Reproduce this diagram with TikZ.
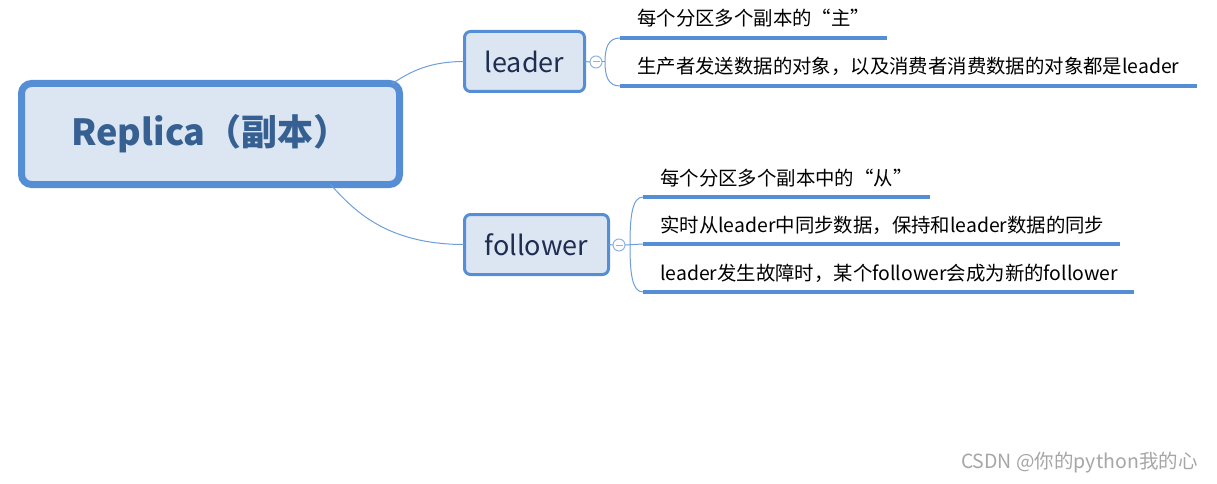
\documentclass[tikz,border=0pt]{standalone}
\usepackage{fontspec}
\setmainfont{Noto Sans CJK SC}
\usetikzlibrary{calc}
\definecolor{frame}{RGB}{85,142,213}
\definecolor{paleblue}{RGB}{220,230,242}
\definecolor{navy}{RGB}{55,96,146}
\definecolor{deepnavy}{RGB}{30,45,80}
\definecolor{wire}{RGB}{110,158,218}
\definecolor{knob}{RGB}{141,180,227}
\tikzset{
  hub/.style={draw=frame,fill=paleblue,line width=7pt,rounded corners=10pt,
    minimum width=378pt,minimum height=101pt,outer sep=0pt,text=navy,
    font=\fontsize{36}{40}\selectfont\bfseries},
  topic/.style={draw=frame,fill=paleblue,line width=3pt,rounded corners=6pt,
    minimum height=60pt,outer sep=0pt,text=deepnavy,
    font=\fontsize{27}{30}\selectfont},
  fold/.style={circle,draw=knob,fill=white,line width=1pt,minimum size=12pt,
    inner sep=0pt,outer sep=0pt,
    path picture={\draw[knob,line width=1pt]
      ([xshift=-3.5pt]path picture bounding box.center) -- ([xshift=3.5pt]path picture bounding box.center);}},
  item/.style={anchor=south west,inner xsep=17pt,inner ysep=8pt,
    text height=15.4pt,text depth=3.8pt,font=\fontsize{19.4}{22}\selectfont},
  link/.style={draw=wire,line width=1pt},
  uline/.style={draw=frame,line width=3.5pt},
  watermark/.style={text=black!35,font=\fontsize{19.5}{22}\selectfont,anchor=east},
}
\begin{document}
\begin{tikzpicture}[x=1pt,y=-1pt]
  \useasboundingbox (0,0) rectangle (1217,484);
  % boxes
  \node[hub] (main) at (210.5,134) {Replica（副本）};
  \node[topic,minimum width=120pt] (leader) at (524.5,61.5) {leader};
  \node[topic,minimum width=144pt] (follower) at (536.5,244.5) {follower};
  \node[fold] (lc) at (596,62) {};
  \node[fold] (fc) at (619,245) {};
  % items
  \node[item] (ld1) at (620,38) {每个分区多个副本的“主”};
  \node[item] (ld2) at (620,86) {生产者发送数据的对象，以及消费者消费数据的对象都是leader};
  \node[item] (fl1) at (643,197) {每个分区多个副本中的“从”};
  \node[item] (fl2) at (643,244) {实时从leader中同步数据，保持和leader数据的同步};
  \node[item] (fl3) at (643,292) {leader发生故障时，某个follower会成为新的follower};
  \foreach \n/\w in {ld1/267,ld2/577,fl1/287,fl2/477,fl3/491}
    \draw[uline] (\n.south west) -- ++(\w,0);
  % links
  \coordinate (mt) at ([xshift=-7pt]main.north east);
  \coordinate (mb) at ([xshift=120pt]main.south);
  \draw[link] (mt) .. controls +(18,-12) and +(-35,0) .. (leader.west);
  \draw[link] (mb) .. controls +(22,24) and +(-80,0) .. (follower.west);
  \draw[link] (leader.east) -- (lc.west);
  \draw[link] (follower.east) -- (fc.west);
  \coordinate (lb) at ([xshift=3pt]lc.east);
  \coordinate (fb) at ([xshift=5pt]fc.east);
  \draw[link] (lc.east) -- (lb);
  \draw[link] (ld1.south west) .. controls +(-12,0) and +(0,-14) .. (lb)
    .. controls +(0,14) and +(-12,0) .. (ld2.south west);
  \draw[link] (fl1.south west) .. controls +(-11,0) and +(0,-28) .. (fb)
    .. controls +(0,28) and +(-11,0) .. (fl3.south west);
  \draw[link] (fc.east) -- (fl2.south west);
  \node[watermark] (csdn) at (1201,463) {CSDN @你的python我的心};
\end{tikzpicture}
\end{document}
